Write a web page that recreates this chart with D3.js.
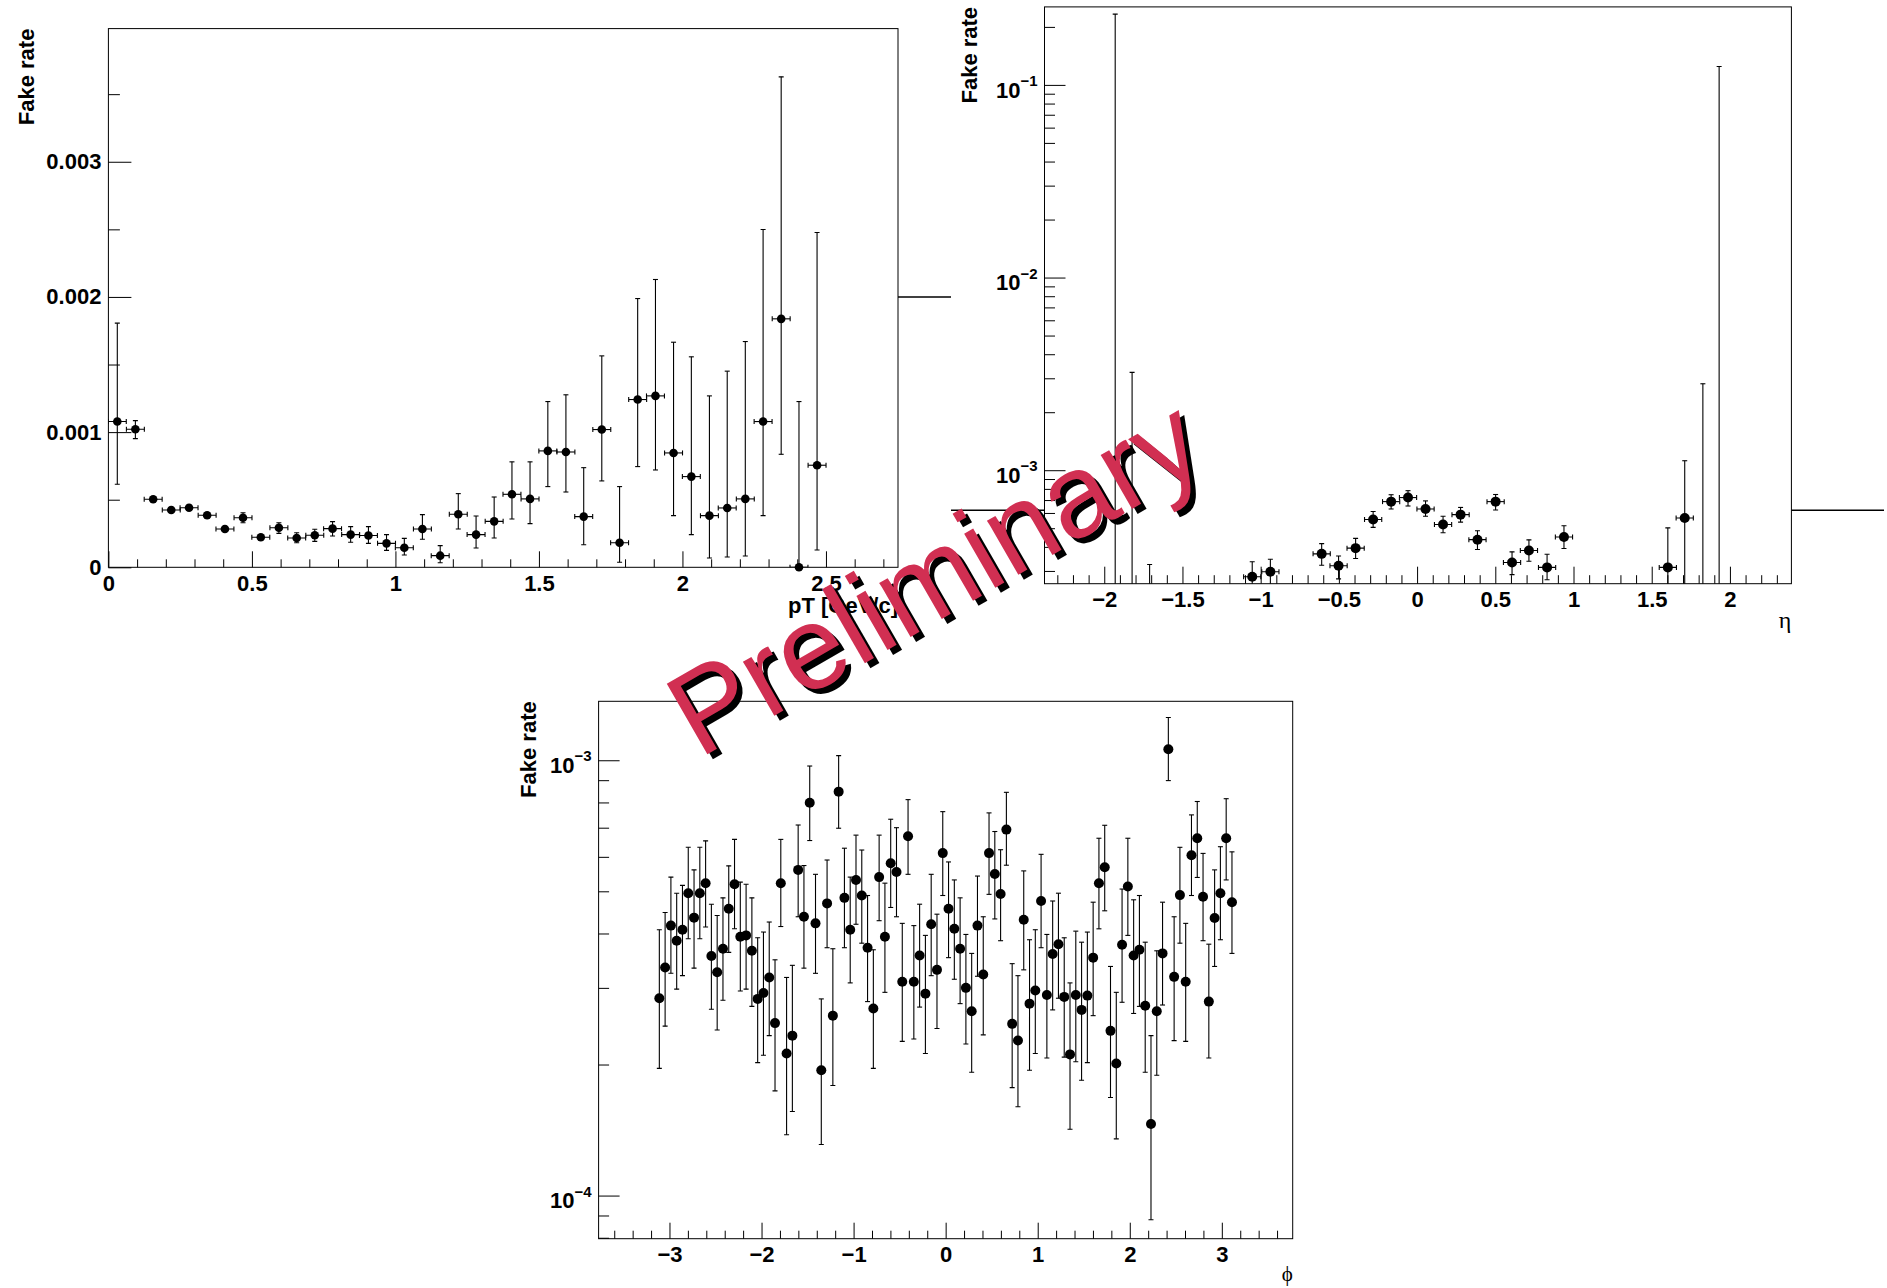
<!DOCTYPE html>
<html>
<head>
<meta charset="utf-8">
<script src="https://cdn.jsdelivr.net/npm/d3@7"></script>
<style>
  body { margin: 0; background: #fff; }
  svg { display: block; }
  .axis text { font-family: "Liberation Sans", Arial, Helvetica, sans-serif; font-weight: bold; font-size: 22px; fill: #000; }
  .axis line { stroke: #000; stroke-width: 1; }
  .title { font-family: "Liberation Sans", Arial, Helvetica, sans-serif; font-weight: bold; font-size: 22px; }
  .greek { font-family: "Liberation Serif", "DejaVu Serif", "Times New Roman", serif; }
</style>
</head>
<body>
<div id="chart"></div>
<script>
// ---- fake rate vs pT (40 bins of 0.0625 GeV/c) ----
const pTCenters = [0.031,0.094,0.156,0.219,0.281,0.344,0.406,0.469,0.531,0.594,
  0.656,0.719,0.781,0.844,0.906,0.969,1.031,1.094,1.156,1.219,
  1.281,1.344,1.406,1.469,1.531,1.594,1.656,1.719,1.781,1.844,
  1.906,1.969,2.031,2.094,2.156,2.219,2.281,2.344,2.406,2.469];
const pTRate = [1.078e-3,1.021e-3,5.03e-4,4.24e-4,4.41e-4,3.85e-4,2.83e-4,3.67e-4,2.22e-4,2.93e-4,
  2.17e-4,2.37e-4,2.86e-4,2.42e-4,2.35e-4,1.77e-4,1.45e-4,2.83e-4,8.6e-5,3.92e-4,
  2.42e-4,3.40e-4,5.40e-4,5.06e-4,8.61e-4,8.53e-4,3.75e-4,1.019e-3,1.82e-4,1.241e-3,
  1.268e-3,8.46e-4,6.71e-4,3.82e-4,4.39e-4,5.06e-4,1.078e-3,1.838e-3,0,7.55e-4];
const pTHigh = [1.806e-3,1.085e-3,5.22e-4,4.42e-4,4.59e-4,4.04e-4,2.99e-4,4.04e-4,2.37e-4,3.30e-4,
  2.56e-4,2.81e-4,3.38e-4,3.01e-4,3.01e-4,2.42e-4,2.14e-4,3.90e-4,1.60e-4,5.45e-4,
  3.79e-4,5.20e-4,7.80e-4,7.80e-4,1.226e-3,1.276e-3,7.37e-4,1.564e-3,5.97e-4,1.988e-3,
  2.129e-3,1.665e-3,1.557e-3,1.268e-3,1.451e-3,1.670e-3,2.499e-3,3.628e-3,1.226e-3,2.477e-3];
const pTLow = [6.14e-4,9.52e-4,4.85e-4,4.07e-4,4.24e-4,3.67e-4,2.68e-4,3.30e-4,2.07e-4,2.51e-4,
  1.82e-4,1.92e-4,2.32e-4,1.85e-4,1.77e-4,1.25e-4,9.1e-5,2.07e-4,3.4e-5,2.83e-4,
  1.43e-4,2.17e-4,3.57e-4,3.23e-4,5.97e-4,5.57e-4,1.67e-4,6.39e-4,3.7e-5,7.45e-4,
  7.20e-4,3.82e-4,2.42e-4,6.9e-5,7.6e-5,8.4e-5,3.82e-4,8.36e-4,0,1.28e-4];
const pTHalfBin = 0.03125;
const pTRefLine = 0.002;

// ---- fake rate vs eta (filled bins only) ----
const etaCenters = [-1.93,-1.822,-1.71,-1.054,-0.938,-0.61,-0.502,-0.393,-0.281,-0.166,-0.058,0.054,
  0.166,0.278,0.386,0.502,0.607,0.715,0.831,0.939,1.603,1.711,1.827,1.931];
const etaRate = [0,0,0,2.80e-4,2.97e-4,3.68e-4,3.19e-4,3.94e-4,5.55e-4,6.87e-4,7.21e-4,6.29e-4,
  5.23e-4,5.88e-4,4.36e-4,6.87e-4,3.32e-4,3.83e-4,3.13e-4,4.50e-4,3.13e-4,5.65e-4,0,0];
const etaHigh = [0.233,3.22e-3,3.24e-4,3.35e-4,3.45e-4,4.16e-4,3.59e-4,4.43e-4,6.11e-4,7.46e-4,7.83e-4,6.93e-4,
  5.77e-4,6.41e-4,4.85e-4,7.48e-4,3.77e-4,4.35e-4,3.66e-4,5.15e-4,5.02e-4,1.12e-3,2.81e-3,0.1245];
const etaLow = [0,0,0,2.3e-4,2.5e-4,3.21e-4,2.73e-4,3.48e-4,5.05e-4,6.29e-4,6.52e-4,5.77e-4,
  4.74e-4,5.38e-4,3.88e-4,6.22e-4,2.87e-4,3.37e-4,2.70e-4,3.92e-4,1.4e-4,8e-5,0,0];
const etaHalfBin = 0.055;
const etaRefLine = 6.2e-4;

// ---- fake rate vs phi (100 bins over -pi..pi) ----
const phiBins = 100;
const phiRate = [2.84e-4,3.34e-4,4.17e-4,3.85e-4,4.08e-4,4.95e-4,4.35e-4,4.95e-4,5.22e-4,3.55e-4,
  3.26e-4,3.69e-4,4.56e-4,5.19e-4,3.93e-4,3.96e-4,3.65e-4,2.83e-4,2.92e-4,3.17e-4,
  2.49e-4,5.22e-4,2.12e-4,2.33e-4,5.60e-4,4.37e-4,7.99e-4,4.22e-4,1.94e-4,4.69e-4,
  2.59e-4,8.47e-4,4.83e-4,4.08e-4,5.31e-4,4.89e-4,3.71e-4,2.69e-4,5.39e-4,3.93e-4,
  5.80e-4,5.54e-4,3.10e-4,6.69e-4,3.10e-4,3.56e-4,2.91e-4,4.20e-4,3.30e-4,6.12e-4,
  4.56e-4,4.10e-4,3.69e-4,3.00e-4,2.65e-4,4.17e-4,3.22e-4,6.12e-4,5.48e-4,4.93e-4,
  6.93e-4,2.48e-4,2.27e-4,4.30e-4,2.76e-4,2.96e-4,4.75e-4,2.89e-4,3.59e-4,3.78e-4,
  2.86e-4,2.11e-4,2.89e-4,2.67e-4,2.88e-4,3.52e-4,5.22e-4,5.68e-4,2.39e-4,2.01e-4,
  3.77e-4,5.13e-4,3.56e-4,3.67e-4,2.73e-4,1.46e-4,2.65e-4,3.60e-4,1.06e-3,3.18e-4,
  4.90e-4,3.10e-4,6.05e-4,6.62e-4,4.86e-4,2.79e-4,4.34e-4,4.95e-4,6.62e-4,4.72e-4];
const phiHigh = [4.08e-4,4.47e-4,5.39e-4,4.95e-4,5.16e-4,6.31e-4,5.60e-4,6.31e-4,6.53e-4,4.67e-4,
  4.40e-4,4.83e-4,5.72e-4,6.58e-4,5.25e-4,5.19e-4,4.83e-4,3.91e-4,4.03e-4,4.25e-4,
  3.48e-4,6.58e-4,3.17e-4,3.38e-4,7.10e-4,5.73e-4,9.70e-4,5.47e-4,2.83e-4,5.90e-4,
  3.69e-4,1.025e-3,6.28e-4,5.39e-4,6.73e-4,6.22e-4,4.89e-4,3.67e-4,6.73e-4,5.22e-4,
  7.32e-4,7.00e-4,4.22e-4,8.12e-4,4.17e-4,4.67e-4,3.96e-4,5.47e-4,4.43e-4,7.62e-4,
  5.84e-4,5.31e-4,4.83e-4,3.98e-4,3.60e-4,5.42e-4,4.37e-4,7.57e-4,6.86e-4,6.23e-4,
  8.44e-4,3.41e-4,3.20e-4,5.57e-4,3.87e-4,4.08e-4,6.08e-4,3.98e-4,4.75e-4,4.95e-4,
  3.91e-4,3.08e-4,4.05e-4,3.82e-4,4.03e-4,4.72e-4,6.62e-4,7.09e-4,3.36e-4,2.93e-4,
  5.06e-4,6.62e-4,4.78e-4,4.89e-4,3.82e-4,2.33e-4,3.65e-4,4.72e-4,1.254e-3,4.37e-4,
  6.31e-4,4.22e-4,7.49e-4,8.04e-4,6.11e-4,3.78e-4,5.60e-4,6.33e-4,8.16e-4,6.16e-4];
const phiLow = [1.96e-4,2.45e-4,3.24e-4,2.98e-4,3.20e-4,3.89e-4,3.33e-4,3.89e-4,4.14e-4,2.68e-4,
  2.40e-4,2.81e-4,3.62e-4,4.10e-4,2.95e-4,2.98e-4,2.72e-4,2.02e-4,2.10e-4,2.33e-4,
  1.74e-4,4.15e-4,1.38e-4,1.56e-4,4.37e-4,3.33e-4,6.54e-4,3.24e-4,1.31e-4,3.71e-4,
  1.79e-4,6.98e-4,3.71e-4,3.08e-4,4.20e-4,3.80e-4,2.79e-4,1.96e-4,4.28e-4,2.93e-4,
  4.59e-4,4.37e-4,2.26e-4,5.47e-4,2.29e-4,2.71e-4,2.12e-4,3.20e-4,2.42e-4,4.89e-4,
  3.52e-4,3.14e-4,2.76e-4,2.23e-4,1.92e-4,3.19e-4,2.34e-4,4.92e-4,4.32e-4,3.85e-4,
  5.74e-4,1.77e-4,1.60e-4,3.30e-4,1.94e-4,2.12e-4,3.71e-4,2.07e-4,2.67e-4,2.84e-4,
  2.08e-4,1.42e-4,2.03e-4,1.84e-4,2.02e-4,2.59e-4,4.10e-4,4.51e-4,1.68e-4,1.35e-4,
  2.78e-4,3.96e-4,2.62e-4,2.72e-4,1.92e-4,8.8e-5,1.89e-4,2.74e-4,8.98e-4,2.27e-4,
  3.80e-4,2.26e-4,4.89e-4,5.38e-4,3.85e-4,2.07e-4,3.36e-4,3.87e-4,5.31e-4,3.60e-4];
// histogram binning: bin centres of 100 equal bins from -pi to pi
const phiHalfBin = Math.PI / phiBins;
const phiCenters = d3.range(phiBins).map(i => -Math.PI + (2 * i + 1) * phiHalfBin);

const W = 1887, H = 1288;
const svg = d3.select('#chart').append('svg').attr('width', W).attr('height', H);
svg.append('rect').attr('width', W).attr('height', H).attr('fill', '#fff');

const minus = d => d < 0 ? '\u2212' + Math.abs(d) : String(d);

function logMinors(dom) {
  const out = [];
  for (let e = Math.floor(Math.log10(dom[0])); e <= Math.ceil(Math.log10(dom[1])); e++) {
    for (let m = 2; m <= 9; m++) {
      const v = m * Math.pow(10, e);
      if (v >= dom[0] && v <= dom[1]) out.push(v);
    }
  }
  return out;
}

let clipId = 0;
function drawPanel(p) {
  const g = svg.append('g');
  const x = d3.scaleLinear().domain(p.xDomain).range([p.left, p.right]);
  const y = (p.log ? d3.scaleLog() : d3.scaleLinear()).domain(p.yDomain).range([p.bottom, p.top]);
  const yPos = v => (p.log && v <= 0) ? p.bottom + 60 : y(v);

  // frame
  g.append('rect')
    .attr('x', p.left).attr('y', p.top)
    .attr('width', p.right - p.left).attr('height', p.bottom - p.top)
    .attr('fill', 'none').attr('stroke', '#000').attr('stroke-width', 1);

  // x axis (ticks pointing into the frame)
  const xMaj = g.append('g').attr('class', 'axis').attr('transform', `translate(0,${p.bottom})`)
    .call(d3.axisBottom(x).tickValues(p.xMajor).tickSize(-p.xTick).tickSizeOuter(0)
      .tickPadding(8).tickFormat(minus));
  xMaj.select('.domain').remove();
  const xMin = g.append('g').attr('class', 'axis').attr('transform', `translate(0,${p.bottom})`)
    .call(d3.axisBottom(x).tickValues(p.xMinor).tickSize(-p.xTick / 2).tickSizeOuter(0).tickFormat(''));
  xMin.select('.domain').remove();

  // y axis
  const yMaj = g.append('g').attr('class', 'axis').attr('transform', `translate(${p.left},0)`)
    .call(d3.axisLeft(y).tickValues(p.yMajor).tickSize(-p.yTick).tickSizeOuter(0)
      .tickPadding(7).tickFormat(p.log ? '' : (d => String(d))));
  yMaj.select('.domain').remove();
  if (p.log) {
    yMaj.selectAll('.tick text').each(function(d) {
      const t = d3.select(this).text(null).attr('dy', '0.55em');
      t.append('tspan').text('10');
      t.append('tspan').attr('dy', -11.5).style('font-size', '15px')
        .text('\u2212' + Math.abs(Math.round(Math.log10(d))));
    });
  }
  const yMin = g.append('g').attr('class', 'axis').attr('transform', `translate(${p.left},0)`)
    .call(d3.axisLeft(y).tickValues(p.log ? logMinors(p.yDomain) : p.yMinor)
      .tickSize(-p.yTick / 2).tickSizeOuter(0).tickFormat(''));
  yMin.select('.domain').remove();

  // titles
  g.append('text').attr('class', 'title')
    .attr('transform', `translate(${p.yTitleX},${p.top}) rotate(-90)`)
    .attr('text-anchor', 'end').text('Fake rate');
  g.append('text').attr('class', p.xTitleClass)
    .attr('x', p.right).attr('y', p.xTitleY)
    .attr('text-anchor', 'end').style('font-size', p.xTitleSize + 'px')
    .text(p.xTitle);

  // error bars, clipped to the frame
  const id = 'clip' + (clipId++);
  g.append('clipPath').attr('id', id).append('rect')
    .attr('x', p.left).attr('y', p.top)
    .attr('width', p.right - p.left).attr('height', p.bottom - p.top);
  const pts = p.centers.map((c, i) => ({c, v: p.rate[i], hi: p.high[i], lo: p.low[i]}));
  const bars = g.append('g').attr('clip-path', `url(#${id})`)
    .attr('stroke', '#000').attr('stroke-width', 1.1);
  const cap = 2.5;
  pts.forEach(d => {
    const cx = x(d.c);
    const shown = !(p.log && d.v <= 0);
    bars.append('line').attr('x1', cx).attr('x2', cx).attr('y1', yPos(d.lo)).attr('y2', yPos(d.hi));
    [d.hi, d.lo].forEach(b => {
      if (p.log && b <= 0) return;
      bars.append('line').attr('x1', cx - cap).attr('x2', cx + cap).attr('y1', yPos(b)).attr('y2', yPos(b));
    });
    if (shown) {
      const yy = y(d.v), xl = x(d.c - p.halfBin), xr = x(d.c + p.halfBin);
      bars.append('line').attr('x1', xl).attr('x2', xr).attr('y1', yy).attr('y2', yy);
      [xl, xr].forEach(xe => bars.append('line').attr('x1', xe).attr('x2', xe)
        .attr('y1', yy - cap).attr('y2', yy + cap));
    }
  });
  g.append('g').selectAll('circle')
    .data(pts.filter(d => !(p.log && d.v <= 0)))
    .enter().append('circle')
    .attr('cx', d => x(d.c)).attr('cy', d => y(d.v))
    .attr('r', p.r).attr('fill', '#000');

  return {x, y};
}

// pT panel
const p1 = drawPanel({
  left: 108.4, right: 898, top: 28.6, bottom: 567.3,
  xDomain: [0, 2.751], yDomain: [0, 0.003985], log: false,
  xMajor: [0, 0.5, 1, 1.5, 2, 2.5],
  xMinor: d3.range(1, 28).map(i => i / 10).filter(v => Math.abs(v * 2 - Math.round(v * 2)) > 1e-6),
  yMajor: [0, 0.001, 0.002, 0.003], yMinor: [0.0005, 0.0015, 0.0025, 0.0035],
  xTick: 16, yTick: 23,
  yTitleX: 33.5, xTitle: 'pT [GeV/c]', xTitleClass: 'title', xTitleY: 612.5, xTitleSize: 22,
  centers: pTCenters, rate: pTRate, high: pTHigh, low: pTLow, halfBin: pTHalfBin, r: 4.3
});

// eta panel
const p2 = drawPanel({
  left: 1044.5, right: 1791.4, top: 6.9, bottom: 583.7,
  xDomain: [-2.382, 2.393], yDomain: [2.576e-4, 0.254], log: true,
  xMajor: [-2, -1.5, -1, -0.5, 0, 0.5, 1, 1.5, 2],
  xMinor: d3.range(-23, 24).map(i => i / 10).filter(v => Math.abs(v * 2 - Math.round(v * 2)) > 1e-6),
  yMajor: [1e-3, 1e-2, 1e-1],
  xTick: 17, yTick: 21,
  yTitleX: 977, xTitle: '\u03b7', xTitleClass: 'greek', xTitleY: 628, xTitleSize: 24,
  centers: etaCenters, rate: etaRate, high: etaHigh, low: etaLow, halfBin: etaHalfBin, r: 5
});

// phi panel
const p3 = drawPanel({
  left: 598.6, right: 1292.7, top: 701.3, bottom: 1238.7,
  xDomain: [-1.2 * Math.PI, 1.2 * Math.PI], yDomain: [7.96e-5, 1.366e-3], log: true,
  xMajor: [-3, -2, -1, 0, 1, 2, 3],
  xMinor: d3.range(-18, 19).map(i => i / 5).filter(v => Math.abs(v - Math.round(v)) > 1e-6),
  yMajor: [1e-4, 1e-3],
  xTick: 16, yTick: 21,
  yTitleX: 536.4, xTitle: '\u03d5', xTitleClass: 'greek', xTitleY: 1281, xTitleSize: 21,
  centers: phiCenters, rate: phiRate, high: phiHigh, low: phiLow, halfBin: phiHalfBin, r: 5
});

// stray reference lines visible outside the frames
svg.append('line').attr('x1', 898).attr('x2', 951)
  .attr('y1', p1.y(pTRefLine)).attr('y2', p1.y(pTRefLine))
  .attr('stroke', '#000').attr('stroke-width', 1.5);
[[951, 1044.5], [1791.4, 1884]].forEach(([a, b]) => {
  svg.append('line').attr('x1', a).attr('x2', b)
    .attr('y1', p2.y(etaRefLine)).attr('y2', p2.y(etaRefLine))
    .attr('stroke', '#000').attr('stroke-width', 1.5);
});

// Preliminary watermark
const prelimFont = '"Liberation Sans", Arial, Helvetica, sans-serif';
[['#000', 704.5, 764], ['#d12f52', 699, 759]].forEach(([col, tx, ty]) => {
  svg.append('text')
    .attr('transform', `translate(${tx},${ty}) rotate(-30)`)
    .attr('font-family', prelimFont).attr('font-size', 118)
    .attr('fill', col).text('Preliminary');
});
</script>
</body>
</html>
